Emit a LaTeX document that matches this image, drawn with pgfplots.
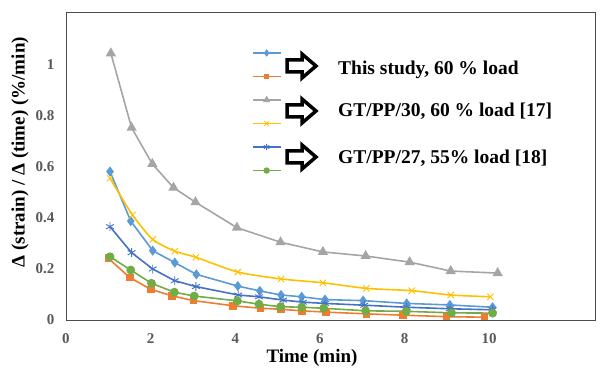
\documentclass[border=0pt]{standalone}
\usepackage{fontspec}
\setmainfont{Liberation Serif}
\usepackage{pgfplots}
\pgfplotsset{compat=1.18}
\definecolor{cblue}{HTML}{5B9BD5}
\definecolor{corange}{HTML}{ED7D31}
\definecolor{cgray}{HTML}{A5A5A5}
\definecolor{cyellow}{HTML}{FFC000}
\definecolor{cdblue}{HTML}{4472C4}
\definecolor{cgreen}{HTML}{70AD47}
\begin{document}
\begin{tikzpicture}[x=1pt,y=1pt]
\useasboundingbox (0,0) rectangle (600,374);
\begin{axis}[
  at={(66pt,54pt)}, anchor=south west, scale only axis,
  width=529pt, height=308pt,
  xmin=0, xmax=12.5, ymin=0, ymax=1.208,
  xtick={0,2,4,6,8,10}, ytick={0,0.2,0.4,0.6,0.8,1},
  major tick length=0pt,
  axis line style={black!70, line width=0.8pt},
  /pgf/number format/assume math mode=true,
  ticklabel style={font=\fontsize{15}{18}\selectfont\bfseries, text=black!65},
  xticklabel style={yshift=-10pt},
  yticklabel style={xshift=-8pt},
  xlabel={Time (min)},
  xlabel style={font=\fontsize{19}{22}\selectfont\bfseries, at={(axis description cs:0.465,-0.123)}, anchor=center},
  ylabel={Δ (strain) / Δ (time) (\%/min)},
  ylabel style={font=\fontsize{19}{22}\selectfont\bfseries, at={(axis description cs:-0.087,0.545)}, anchor=center, rotate=0},
  every axis plot/.append style={line width=1.6pt},
  legend image code/.code={\draw[mark repeat=2,mark phase=2,#1,line width=1.3pt,every mark/.append style={scale=0.7}] plot coordinates {(0pt,0pt) (14pt,0pt) (28pt,0pt)};},
  legend cell align=left,
  legend style={draw=none, fill=none, inner sep=0pt, outer sep=0pt,
    at={(axis description cs:0.3516,0.905)}, anchor=north west,
    nodes={inner sep=0pt, text height=11.75pt, text depth=11.75pt}},
]
\addplot[color=cblue, mark=diamond*, mark size=3.8pt] coordinates {
(1.04,0.582) (1.53,0.388) (2.05,0.272) (2.57,0.225) (3.08,0.179) (4.06,0.133) (4.58,0.114) (5.08,0.098) (5.57,0.091) (6.12,0.080) (7.02,0.076) (8.05,0.065) (9.07,0.059) (10.08,0.050)};
\addlegendentry{\mbox{}}
\addplot[color=corange, mark=square*, mark size=3pt] coordinates {
(1.00,0.242) (1.51,0.166) (2.01,0.120) (2.50,0.095) (3.01,0.076) (3.94,0.056) (4.60,0.046) (5.08,0.042) (5.58,0.036) (6.14,0.031) (7.10,0.024) (7.96,0.019) (8.99,0.013) (9.89,0.011)};
\addlegendentry{\mbox{}}
\addplot[color=cgray, mark=triangle*, mark size=4.4pt] coordinates {
(1.06,1.046) (1.55,0.754) (2.04,0.612) (2.54,0.519) (3.06,0.462) (4.04,0.362) (5.07,0.305) (6.07,0.267) (7.08,0.251) (8.12,0.227) (9.09,0.192) (10.2,0.184)};
\addlegendentry{\mbox{}}
\addplot[color=cyellow, mark=x, mark size=4.5pt, mark options={line width=0.9pt}, smooth, tension=0.4] coordinates {
(1.04,0.556) (1.57,0.412) (2.05,0.316) (2.57,0.270) (3.07,0.246) (4.06,0.188) (5.08,0.161) (6.07,0.146) (7.10,0.124) (8.17,0.115) (9.09,0.098) (10.03,0.091)};
\addlegendentry{\mbox{}}
\addplot[color=cdblue, mark=asterisk, mark size=4.5pt, mark options={line width=0.9pt}] coordinates {
(1.04,0.366) (1.55,0.264) (2.05,0.200) (2.57,0.154) (3.07,0.131) (4.07,0.098) (4.56,0.091) (5.13,0.078) (5.60,0.070) (6.12,0.065) (7.05,0.058) (8.05,0.050) (9.07,0.044) (10.08,0.040)};
\addlegendentry{\mbox{}}
\addplot[color=cgreen, mark=*, mark size=3.6pt] coordinates {
(1.04,0.248) (1.53,0.196) (2.02,0.144) (2.56,0.109) (3.03,0.094) (4.05,0.075) (4.56,0.062) (5.07,0.052) (5.57,0.050) (6.09,0.046) (7.08,0.036) (8.04,0.034) (9.11,0.028) (10.08,0.027)};
\addlegendentry{\mbox{}}
\end{axis}
\draw[black!70, line width=0.8pt] (66,54) rectangle (595,362);
\foreach \cy in {308,263,217}
  \draw[line width=3.5pt, line join=miter, fill=white] (287,\cy-6) -- (302,\cy-6) -- (302,\cy-12) -- (316,\cy) -- (302,\cy+12) -- (302,\cy+6) -- (287,\cy+6) -- cycle;
\node[anchor=base west, inner sep=0pt, font=\fontsize{19.5}{23}\selectfont\bfseries] at (338,299.6) {This study, 60 \% load};
\node[anchor=base west, inner sep=0pt, font=\fontsize{19.5}{23}\selectfont\bfseries] at (338,257.6) {GT/PP/30, 60 \% load [17]};
\node[anchor=base west, inner sep=0pt, font=\fontsize{19.5}{23}\selectfont\bfseries] at (338,210.6) {GT/PP/27, 55\% load [18]};
\end{tikzpicture}
\end{document}
